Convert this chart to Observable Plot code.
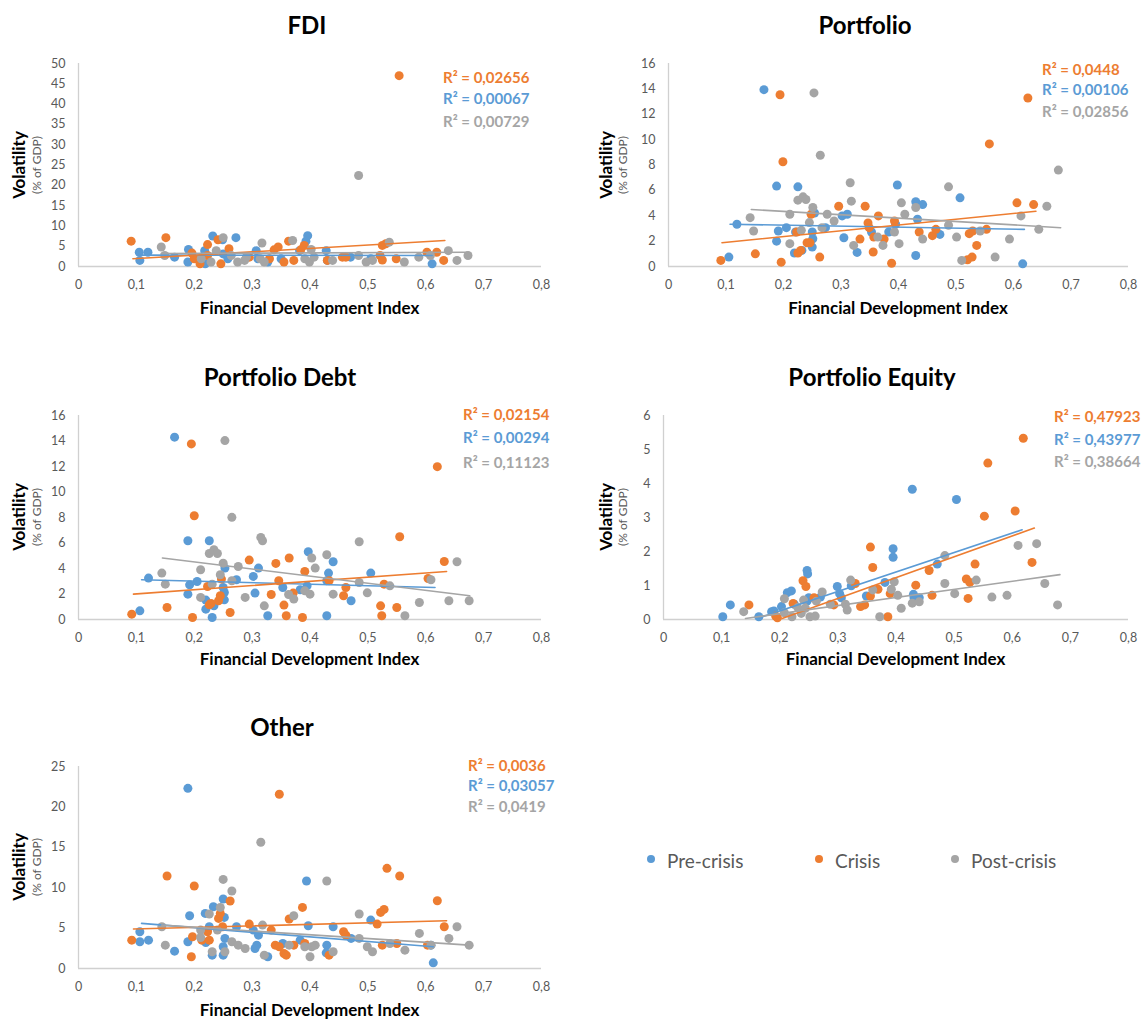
<!DOCTYPE html>
<html>
<head>
<meta charset="utf-8">
<script src="https://cdn.jsdelivr.net/npm/d3@7"></script>
<script src="https://cdn.jsdelivr.net/npm/@observablehq/plot@0.6"></script>
<style>
  html, body { margin: 0; padding: 0; background: #fff; }
  #root { position: relative; width: 1145px; height: 1021px; font-family: Lato, "Open Sans", sans-serif; overflow: hidden; }
  .abs { position: absolute; white-space: nowrap; line-height: 1; }
  .title { font-weight: 700; font-size: 24px; color: #000; transform: translate(-50%, -50%); }
  .xlab { font-weight: 700; font-size: 17px; color: #000; transform: translate(-50%, -50%); }
  .ylab { font-weight: 700; font-size: 17px; color: #000; transform: translate(-50%, -50%) rotate(-90deg); }
  .ysub { font-size: 12px; color: #595959; transform: translate(-50%, -50%) rotate(-90deg); }
  .r2 { font-weight: 700; font-size: 15px; transform: translateY(-50%); }
  .leg { font-size: 19px; color: #595959; transform: translateY(-50%); }
  .legdot { width: 8px; height: 8px; border-radius: 50%; transform: translate(-50%, -50%); }
  svg { position: absolute; overflow: visible; }
</style>
</head>
<body>
<div id="root"></div>
<script>
// ---------- data ----------
const seriesNames = ["Pre-crisis", "Crisis", "Post-crisis"];
const seriesColors = ["#5B9BD5", "#ED7D31", "#A5A5A5"];
const xTicks = [0, 0.1, 0.2, 0.3, 0.4, 0.5, 0.6, 0.7, 0.8];

// FDI
const fdiPre = [[0.105,3.5],[0.106,1.5],[0.12,3.5],[0.166,2.3],[0.189,1.1],[0.19,4.2],[0.218,3.9],[0.219,0.66],[0.232,7.5],[0.249,6.6],[0.25,3.1],[0.258,1.9],[0.272,7.1],[0.307,3.9],[0.31,1.9],[0.327,1.1],[0.35,1.9],[0.382,3.9],[0.393,6.25],[0.396,7.6],[0.428,3.9],[0.43,1.5],[0.47,2.3],[0.505,1.9],[0.611,0.66]];
const fdiCrisis = [[0.091,6.25],[0.151,7.1],[0.196,3.3],[0.2,1.9],[0.21,0.66],[0.223,5.4],[0.223,2.7],[0.241,6.6],[0.246,0.66],[0.26,4.4],[0.295,2.3],[0.33,1.9],[0.338,4.1],[0.345,4.8],[0.355,1.1],[0.363,6.25],[0.372,1.5],[0.384,4.1],[0.39,5.2],[0.43,1.5],[0.456,2.3],[0.462,2.3],[0.521,2.7],[0.525,1.6],[0.525,5.2],[0.531,5.6],[0.549,1.9],[0.554,47],[0.602,3.5],[0.619,3.5],[0.631,1.5]];
const fdiPost = [[0.143,4.8],[0.149,2.7],[0.212,1.9],[0.229,1.1],[0.238,3.9],[0.25,7.1],[0.264,2.7],[0.275,1.1],[0.287,1.5],[0.29,2.3],[0.314,1.9],[0.317,5.8],[0.321,1.1],[0.37,6.4],[0.391,1.9],[0.399,1.1],[0.402,4.2],[0.407,2.3],[0.439,1.5],[0.484,2.7],[0.484,22.4],[0.497,1.1],[0.508,1.5],[0.537,6.0],[0.563,1.1],[0.588,2.3],[0.608,2.7],[0.639,3.9],[0.654,1.5],[0.673,2.7]];
const fdiTrend = [[[0.105,2.8],[0.611,2.7]], [[0.094,1.9],[0.633,6.4]], [[0.143,3.2],[0.673,3.5]]];
const fdiR2 = ["0,02656", "0,00067", "0,00729"];

// Portfolio
const portPre = [[0.105,0.74],[0.119,3.33],[0.166,13.94],[0.188,6.34],[0.188,2.0],[0.191,2.8],[0.205,3.06],[0.221,2.72],[0.225,6.28],[0.219,1.06],[0.232,1.27],[0.25,2.72],[0.251,2.19],[0.25,1.53],[0.254,4.22],[0.273,3.06],[0.302,3.99],[0.311,4.12],[0.305,2.27],[0.328,1.11],[0.353,2.72],[0.383,2.72],[0.398,6.42],[0.395,3.33],[0.43,5.1],[0.433,3.72],[0.442,4.88],[0.43,0.87],[0.472,2.53],[0.507,5.41],[0.616,0.21]];
const portCrisis = [[0.091,0.48],[0.151,1.0],[0.194,13.54],[0.199,8.26],[0.196,0.34],[0.223,2.72],[0.225,1.06],[0.23,1.27],[0.241,1.87],[0.246,1.87],[0.248,4.12],[0.263,0.74],[0.296,4.75],[0.333,2.16],[0.342,4.75],[0.347,3.43],[0.349,3.06],[0.356,1.14],[0.357,2.32],[0.365,3.99],[0.375,2.16],[0.393,3.59],[0.388,0.26],[0.436,2.72],[0.459,2.43],[0.465,2.93],[0.523,2.59],[0.529,2.8],[0.52,0.53],[0.528,0.74],[0.536,1.66],[0.553,2.93],[0.558,9.66],[0.606,5.02],[0.625,13.28],[0.635,4.88]];
const portPost = [[0.142,3.85],[0.148,2.8],[0.211,4.12],[0.211,1.8],[0.225,5.23],[0.234,5.49],[0.239,5.28],[0.231,2.85],[0.245,3.46],[0.251,4.65],[0.253,13.68],[0.264,8.77],[0.267,3.06],[0.276,4.12],[0.288,3.59],[0.316,6.6],[0.318,5.15],[0.322,1.66],[0.364,2.32],[0.373,1.66],[0.393,2.72],[0.401,1.8],[0.405,5.02],[0.411,4.12],[0.43,4.65],[0.442,2.16],[0.487,6.28],[0.487,3.25],[0.501,2.32],[0.51,0.48],[0.542,2.8],[0.568,0.74],[0.593,2.16],[0.613,3.99],[0.644,2.93],[0.658,4.75],[0.678,7.6]];
const portTrend = [[[0.107,3.33],[0.619,2.93]], [[0.093,1.87],[0.639,4.36]], [[0.144,4.49],[0.682,3.06]]];
const portR2 = ["0,0448", "0,00106", "0,02856"];

// Portfolio Debt
const debtPre = [[0.106,0.68],[0.121,3.25],[0.166,14.3],[0.189,6.18],[0.189,1.99],[0.192,2.72],[0.205,2.98],[0.226,6.18],[0.22,1.52],[0.22,0.81],[0.234,1.07],[0.231,0.16],[0.25,2.51],[0.252,2.12],[0.252,1.54],[0.253,4.03],[0.273,3.12],[0.302,3.38],[0.311,4.03],[0.305,2.07],[0.327,0.29],[0.353,2.51],[0.383,2.33],[0.397,5.31],[0.395,2.64],[0.429,0.29],[0.429,3.04],[0.432,3.64],[0.44,4.53],[0.471,1.47],[0.505,3.64]];
const debtCrisis = [[0.092,0.42],[0.153,0.94],[0.195,13.77],[0.2,8.14],[0.197,0.16],[0.223,2.59],[0.226,1.15],[0.229,1.26],[0.242,1.47],[0.245,1.86],[0.247,3.17],[0.262,0.55],[0.295,4.66],[0.333,1.96],[0.341,4.4],[0.346,3.04],[0.355,1.13],[0.359,0.29],[0.364,4.82],[0.371,2.07],[0.391,3.77],[0.387,0.16],[0.433,3.04],[0.458,1.86],[0.462,2.51],[0.522,1.07],[0.524,0.29],[0.528,2.77],[0.55,0.94],[0.555,6.49],[0.604,3.22],[0.62,11.99],[0.632,4.55]];
const debtPost = [[0.144,3.64],[0.15,2.77],[0.211,3.9],[0.211,1.73],[0.226,5.18],[0.234,5.47],[0.24,5.18],[0.231,2.77],[0.245,3.51],[0.25,4.42],[0.253,14.03],[0.265,8.01],[0.265,3.04],[0.276,4.16],[0.288,1.73],[0.315,6.44],[0.318,6.18],[0.321,1.07],[0.363,1.96],[0.372,1.6],[0.391,2.25],[0.4,1.99],[0.403,4.82],[0.409,4.03],[0.429,5.08],[0.44,1.99],[0.485,6.1],[0.485,2.9],[0.499,2.09],[0.538,2.64],[0.564,0.29],[0.589,1.33],[0.609,3.12],[0.64,1.47],[0.654,4.53],[0.675,1.47]];
const debtTrend = [[[0.109,3.12],[0.616,2.51]], [[0.095,1.99],[0.636,3.77]], [[0.145,4.82],[0.676,1.86]]];
const debtR2 = ["0,02154", "0,00294", "0,11123"];

// Portfolio Equity
const eqPre = [[0.102,0.08],[0.115,0.43],[0.164,0.08],[0.186,0.23],[0.19,0.25],[0.203,0.38],[0.213,0.79],[0.22,0.84],[0.225,0.45],[0.247,1.44],[0.248,1.34],[0.247,0.54],[0.25,0.64],[0.27,0.66],[0.299,0.97],[0.303,0.76],[0.306,0.64],[0.323,0.99],[0.349,0.69],[0.381,1.09],[0.395,2.08],[0.395,1.83],[0.428,3.83],[0.43,0.74],[0.431,0.64],[0.44,0.64],[0.471,1.63],[0.504,3.53]];
const eqCrisis = [[0.147,0.43],[0.193,0.1],[0.196,0.05],[0.223,0.47],[0.24,1.14],[0.245,0.97],[0.259,0.64],[0.293,0.43],[0.33,1.06],[0.339,0.38],[0.346,0.43],[0.356,2.13],[0.36,1.53],[0.356,0.69],[0.369,0.89],[0.39,0.76],[0.386,0.08],[0.434,1.01],[0.457,1.44],[0.462,0.71],[0.521,1.19],[0.527,1.09],[0.524,0.62],[0.536,1.63],[0.552,3.04],[0.558,4.6],[0.605,3.19],[0.619,5.33],[0.634,1.68]];
const eqPost = [[0.138,0.23],[0.208,0.61],[0.208,0.2],[0.221,0.08],[0.231,0.35],[0.237,0.18],[0.241,0.57],[0.244,0.33],[0.252,0.08],[0.261,0.1],[0.263,0.54],[0.273,0.81],[0.287,0.45],[0.313,0.45],[0.316,0.28],[0.322,1.16],[0.36,0.87],[0.372,0.08],[0.392,0.89],[0.397,1.11],[0.403,0.71],[0.409,0.33],[0.428,0.48],[0.44,0.52],[0.484,1.06],[0.484,1.88],[0.501,0.76],[0.538,1.16],[0.565,0.66],[0.591,0.71],[0.61,2.18],[0.642,2.23],[0.656,1.06],[0.678,0.43]];
const eqTrend = [[[0.161,0.03],[0.617,2.64]], [[0.204,0.03],[0.638,2.69]], [[0.141,0.03],[0.682,1.32]]];
const eqR2 = ["0,47923", "0,43977", "0,38664"];

// Other
const otherPre = [[0.106,4.55],[0.106,3.31],[0.121,3.51],[0.166,2.15],[0.189,22.3],[0.192,6.53],[0.189,3.31],[0.219,6.82],[0.22,3.22],[0.226,5.17],[0.233,7.64],[0.231,1.65],[0.25,8.6],[0.252,6.32],[0.253,3.72],[0.25,2.69],[0.25,1.65],[0.273,5.17],[0.302,4.75],[0.305,2.48],[0.308,2.89],[0.311,4.13],[0.327,1.45],[0.353,3.1],[0.383,3.51],[0.394,10.83],[0.397,5.29],[0.429,2.89],[0.428,1.94],[0.44,5.17],[0.471,3.72],[0.505,5.99],[0.613,0.7],[0.609,2.89]];
const otherCrisis = [[0.092,3.51],[0.153,11.45],[0.195,1.45],[0.2,10.21],[0.197,3.93],[0.213,3.51],[0.223,4.55],[0.226,3.51],[0.242,6.2],[0.245,6.82],[0.249,5.17],[0.262,8.35],[0.295,5.5],[0.333,4.75],[0.34,2.89],[0.347,21.57],[0.347,2.69],[0.355,1.86],[0.359,1.65],[0.364,6.12],[0.372,2.89],[0.387,7.56],[0.391,3.1],[0.433,1.65],[0.458,4.55],[0.462,4.13],[0.516,5.5],[0.522,6.94],[0.528,7.31],[0.533,12.4],[0.525,2.89],[0.55,3.1],[0.555,11.45],[0.603,2.89],[0.62,8.39],[0.632,5.17]];
const otherPost = [[0.144,5.17],[0.15,2.89],[0.211,4.75],[0.211,3.84],[0.226,6.74],[0.231,2.07],[0.24,4.75],[0.245,7.56],[0.25,11.03],[0.253,2.07],[0.265,9.59],[0.265,3.31],[0.276,2.89],[0.288,2.48],[0.315,15.62],[0.318,5.37],[0.321,1.65],[0.364,2.89],[0.372,6.53],[0.391,2.69],[0.4,1.45],[0.403,2.69],[0.409,2.89],[0.429,10.83],[0.44,2.07],[0.485,6.74],[0.485,3.72],[0.499,2.69],[0.508,2.07],[0.538,3.1],[0.564,2.27],[0.589,4.34],[0.609,2.89],[0.64,3.72],[0.654,5.17],[0.675,2.89]];
const otherTrend = [[[0.109,5.58],[0.613,2.69]], [[0.095,4.88],[0.636,5.91]], [[0.144,5.37],[0.675,2.89]]];
const otherR2 = ["0,0036", "0,03057", "0,0419"];

const titles = ["FDI", "Portfolio", "Portfolio Debt", "Portfolio Equity", "Other"];
const yMaxes = [50, 16, 16, 6, 25];
const ySteps = [5, 2, 2, 1, 5];
const xLabel = "Financial Development Index";
const yLabel = "Volatility";
const ySubLabel = "(% of GDP)";
const r2Order = [1, 0, 2]; // R² labels top to bottom: Crisis, Pre-crisis, Post-crisis

// ---------- layout ----------
const layout = [
  {x0: 78, x1: 541, yBot: 266, yTop: 63, titleX: 307, titleY: 25, ylabX: 18, ysubX: 37, xlabY: 307, r2X: 443, r2Y: [77, 98, 121]},
  {x0: 668, x1: 1128, yBot: 266, yTop: 63, titleX: 865, titleY: 25, ylabX: 605, ysubX: 623, xlabY: 307, r2X: 1042, r2Y: [69, 89, 111]},
  {x0: 78, x1: 541, yBot: 619, yTop: 415, titleX: 280, titleY: 377, ylabX: 18, ysubX: 37, xlabY: 658, r2X: 463, r2Y: [414, 437, 462]},
  {x0: 663, x1: 1128, yBot: 619, yTop: 415, titleX: 872, titleY: 377, ylabX: 605, ysubX: 623, xlabY: 658, r2X: 1054, r2Y: [416, 439, 461]},
  {x0: 78, x1: 541, yBot: 968, yTop: 766, titleX: 282, titleY: 727, ylabX: 18, ysubX: 37, xlabY: 1009, r2X: 468, r2Y: [765, 785, 806]}
];

const panelData = [
  [fdiPre, fdiCrisis, fdiPost, fdiTrend, fdiR2],
  [portPre, portCrisis, portPost, portTrend, portR2],
  [debtPre, debtCrisis, debtPost, debtTrend, debtR2],
  [eqPre, eqCrisis, eqPost, eqTrend, eqR2],
  [otherPre, otherCrisis, otherPost, otherTrend, otherR2]
];

const root = document.getElementById("root");
const fmtX = d => d === 0 ? "0" : d.toFixed(1).replace(".", ",");

function addDiv(cls, text, x, y, extra) {
  const el = document.createElement("div");
  el.className = "abs " + cls;
  el.textContent = text;
  el.style.left = x + "px";
  el.style.top = y + "px";
  if (extra) Object.assign(el.style, extra);
  root.appendChild(el);
  return el;
}

layout.forEach((L, i) => {
  const [pre, cri, post, trend, r2] = panelData[i];
  const svgLeft = L.x0 - 45;
  const svgTop = L.yTop - 15;
  const marginLeft = L.x0 - svgLeft;
  const marginTop = L.yTop - svgTop;
  const marginRight = 20;
  const marginBottom = 30;
  const width = L.x1 - svgLeft + marginRight;
  const height = L.yBot - svgTop + marginBottom;
  const ymax = yMaxes[i], step = ySteps[i];
  const acc = {x: d => d[0], y: d => d[1]};
  const sets = [pre, cri, post];
  const chart = Plot.plot({
    width, height, marginLeft, marginRight, marginTop, marginBottom,
    style: {fontFamily: "Lato, 'Open Sans', sans-serif", fontSize: "12.5px", color: "#595959", background: "transparent"},
    x: {domain: [0, 0.8], ticks: xTicks, tickFormat: fmtX, tickSize: 0, tickPadding: 14, label: null},
    y: {domain: [0, ymax], ticks: d3.range(0, ymax + step / 2, step), tickFormat: d => String(d), tickSize: 0, tickPadding: 13, label: null},
    marks: [
      Plot.ruleX([0], {stroke: "#D0D0D0", strokeWidth: 1.3}),
      Plot.ruleY([0], {stroke: "#D0D0D0", strokeWidth: 1.3}),
      ...sets.map((s, k) => Plot.dot(s, {...acc, r: 4.5, fill: seriesColors[k], stroke: "none"})),
      ...trend.map((t, k) => Plot.line(t, {...acc, stroke: seriesColors[k], strokeWidth: 1.6}))
    ]
  });
  chart.style.left = svgLeft + "px";
  chart.style.top = svgTop + "px";
  root.appendChild(chart);

  addDiv("title", titles[i], L.titleX, L.titleY);
  addDiv("xlab", xLabel, (L.x0 + L.x1) / 2, L.xlabY);
  const yc = (L.yTop + L.yBot) / 2;
  addDiv("ylab", yLabel, L.ylabX, yc);
  addDiv("ysub", ySubLabel, L.ysubX, yc);
  r2Order.forEach((k, j) => {
    addDiv("r2", "R² = " + r2[j], L.r2X, L.r2Y[j], {color: seriesColors[k]});
  });
});

// legend
const legX = [651, 819, 955];
seriesNames.forEach((name, k) => {
  addDiv("legdot", "", legX[k], 859, {background: seriesColors[k]});
  addDiv("leg", name, legX[k] + 16, 860);
});
</script>
</body>
</html>
